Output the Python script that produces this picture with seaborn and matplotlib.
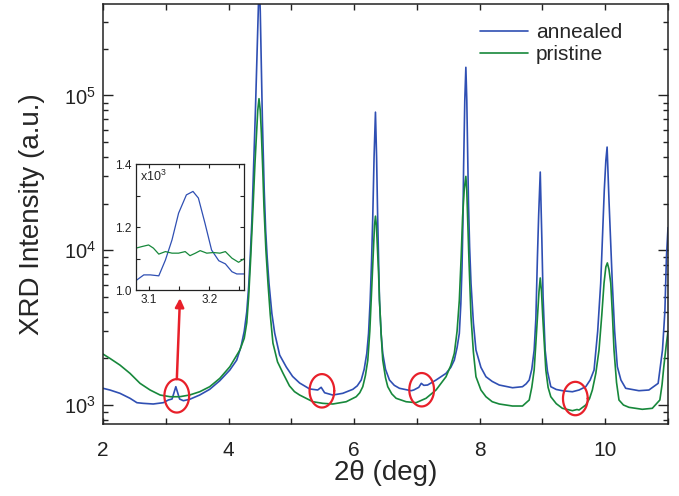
import numpy as np
import pandas as pd
import matplotlib
matplotlib.use("Agg")
import matplotlib.pyplot as plt
import seaborn as sns
from matplotlib.ticker import LogLocator, NullFormatter, MultipleLocator, FixedLocator

# ---------------- data ----------------
annealed_x = [2.00, 2.11, 2.27, 2.43, 2.54, 2.64, 2.80, 2.96, 3.04, 3.10, 3.13, 3.16, 3.19, 3.22,
              3.28, 3.38, 3.54, 3.70, 3.86, 4.02, 4.13, 4.20, 4.25, 4.29, 4.32, 4.345, 4.37,
              4.40, 4.428, 4.453, 4.472, 4.489, 4.505, 4.52, 4.539, 4.568, 4.591, 4.615, 4.644,
              4.69, 4.735, 4.814, 4.92, 5.02, 5.132, 5.291, 5.42, 5.475, 5.53, 5.66, 5.82, 5.98,
              6.05, 6.113, 6.16, 6.202, 6.23, 6.256, 6.278, 6.297, 6.318, 6.34, 6.358, 6.375,
              6.39, 6.404, 6.43, 6.456, 6.50, 6.563, 6.64, 6.722, 6.908, 6.95, 7.03, 7.07, 7.11,
              7.17, 7.305, 7.464, 7.54, 7.596, 7.64, 7.676, 7.70, 7.719, 7.733, 7.744, 7.763,
              7.78, 7.795, 7.808, 7.822, 7.84, 7.862, 7.90, 7.941, 8.02, 8.10, 8.20, 8.312,
              8.523, 8.682, 8.74, 8.789, 8.83, 8.868, 8.895, 8.92, 8.94, 8.965, 8.99, 9.01,
              9.043, 9.08, 9.133, 9.22, 9.318, 9.477, 9.583, 9.69, 9.76, 9.822, 9.88, 9.928,
              9.985, 10.01, 10.03, 10.06, 10.09, 10.113, 10.15, 10.193, 10.25, 10.326, 10.537,
              10.696, 10.843, 10.912, 10.95, 10.975, 11.0]
annealed_y = [1282, 1250, 1190, 1105, 1035, 1025, 1015, 1035, 1077, 1093, 1195, 1313, 1195, 1093,
              1066, 1088, 1160, 1263, 1435, 1682, 1951, 2400, 3000, 4000, 5800, 9000, 15000,
              35000, 80000, 181000, 350000, 560000, 350000, 168000, 69000, 24400, 13450, 9000, 6124,
              3900, 2914, 2102, 1758, 1530, 1387, 1270, 1250, 1301, 1200, 1160, 1190, 1263,
              1330, 1450, 1700, 2156, 2900, 4755, 8500, 16400, 40000, 78000, 40000, 16400,
              8500, 4755, 2900, 2156, 1700, 1450, 1340, 1282, 1237, 1250, 1300, 1380, 1340,
              1346, 1450, 1601, 1750, 1951, 2350, 2901, 4500, 7800, 15000, 34400, 92900,
              152000, 92900, 44200, 20000, 10500, 6124, 3400, 2265, 1750, 1523, 1420, 1346,
              1293, 1313, 1370, 1450, 1700, 2265, 3600, 9000, 17000, 32000, 12000, 5000,
              2265, 1650, 1313, 1260, 1237, 1218, 1250, 1313, 1450, 1682, 3000, 6124,
              24400, 38000, 46400, 21000, 10500, 6124, 3000, 1766, 1450, 1282, 1237,
              1250, 1380, 2265, 4000, 9000, 14000]

pristine_x = [2.00, 2.11, 2.27, 2.43, 2.59, 2.75, 2.91, 3.07, 3.22, 3.38, 3.54, 3.70, 3.86, 4.02,
              4.18, 4.25, 4.29, 4.32, 4.35, 4.39, 4.42, 4.445, 4.465, 4.485, 4.505, 4.523, 4.545,
              4.564, 4.595, 4.628, 4.665, 4.707, 4.78, 4.866, 4.97, 5.05, 5.132, 5.343, 5.502,
              5.661, 5.874, 6.033, 6.09, 6.138, 6.18, 6.218, 6.25, 6.272, 6.29, 6.308, 6.325,
              6.34, 6.355, 6.372, 6.39, 6.404, 6.43, 6.456, 6.50, 6.536, 6.60, 6.669, 6.828,
              6.987, 7.146, 7.305, 7.464, 7.54, 7.596, 7.64, 7.676, 7.705, 7.728, 7.755, 7.78,
              7.795, 7.808, 7.83, 7.862, 7.90, 7.941, 8.02, 8.10, 8.20, 8.312, 8.523, 8.682,
              8.789, 8.83, 8.868, 8.895, 8.92, 8.945, 8.965, 8.985, 9.005, 9.03, 9.054, 9.09,
              9.133, 9.22, 9.318, 9.477, 9.55, 9.583, 9.69, 9.75, 9.795, 9.85, 9.901, 9.945,
              9.981, 10.01, 10.034, 10.06, 10.088, 10.115, 10.14, 10.18, 10.219, 10.29, 10.378,
              10.59, 10.75, 10.87, 10.905, 10.933, 10.97, 11.0]
pristine_y = [2133, 2001, 1811, 1601, 1380, 1250, 1160, 1131, 1131, 1160, 1218, 1313, 1486, 1766,
              2265, 2700, 3400, 5000, 8500, 19000, 36000, 56900, 80000, 95300, 80000, 56900, 33000,
              19000, 10000, 6124, 3800, 2512, 1900, 1609, 1330, 1220, 1160, 1050, 1025,
              1015, 1050, 1131, 1200, 1313, 1550, 1951, 3000, 4755, 7000, 10000, 14500,
              16600, 14500, 10000, 7000, 4755, 2900, 1951, 1500, 1313, 1180, 1105, 1050,
              1035, 1105, 1250, 1523, 1800, 2156, 3000, 4755, 9000, 16400, 25000, 30000,
              24000, 16400, 8500, 3716, 2200, 1523, 1250, 1131, 1050, 1015, 985, 985,
              1077, 1300, 1682, 2500, 3716, 5400, 6620, 5400, 3700, 2500, 1682, 1300,
              1131, 1020, 952, 919, 935, 928, 1000, 1100, 1250, 1600, 2265, 3800,
              6124, 7800, 8280, 7500, 6124, 3800, 2265, 1400, 1077, 1000, 966,
              938, 952, 1077, 1350, 1766, 2400, 3000]

# inset (intensity in units of 10^3)
inset_x = [3.078, 3.091, 3.102, 3.116, 3.127, 3.138, 3.149, 3.162, 3.173, 3.182, 3.193, 3.204,
           3.216, 3.227, 3.238, 3.246, 3.258]
inset_annealed = [1.030, 1.048, 1.048, 1.045, 1.095, 1.159, 1.244, 1.302, 1.313, 1.292, 1.212,
                  1.127, 1.093, 1.083, 1.058, 1.051, 1.051]
inset_px = [3.078, 3.088, 3.099, 3.107, 3.116, 3.127, 3.138, 3.149, 3.160, 3.168, 3.177, 3.185,
            3.196, 3.207, 3.218, 3.227, 3.238, 3.249, 3.258]
inset_pristine = [1.133, 1.138, 1.143, 1.133, 1.114, 1.122, 1.117, 1.117, 1.122, 1.109, 1.117,
                  1.125, 1.117, 1.119, 1.117, 1.122, 1.101, 1.088, 1.099]

# highlighted features (centre x, centre intensity)
mark_x = [3.175, 5.487, 7.076, 9.524]
mark_y = [1146, 1235, 1255, 1101]

series_labels = ["annealed", "pristine"]
BLUE = "#2f4fb3"
GREEN = "#17883b"
RED = "#e8202a"

# ---------------- style ----------------
sns.set_style("ticks")
plt.rcParams["font.family"] = ["Liberation Sans", "DejaVu Sans"]
plt.rcParams["mathtext.default"] = "regular"
plt.rcParams["axes.linewidth"] = 1.1
plt.rcParams["axes.edgecolor"] = "#222222"
plt.rcParams["xtick.color"] = "#222222"
plt.rcParams["ytick.color"] = "#222222"

fig = plt.figure(figsize=(6.79, 4.96), dpi=100)
ax = fig.add_axes([0.1517, 0.1452, 0.8321, 0.8468])

df_a = pd.DataFrame({"x": annealed_x, "y": annealed_y})
df_p = pd.DataFrame({"x": pristine_x, "y": pristine_y})
sns.lineplot(data=df_a, x="x", y="y", ax=ax, color=BLUE, lw=1.2, label=series_labels[0],
             estimator=None, sort=False)
sns.lineplot(data=df_p, x="x", y="y", ax=ax, color=GREEN, lw=1.2, label=series_labels[1],
             estimator=None, sort=False)

ax.set_yscale("log")
ax.set_xlim(2, 11)
ax.set_ylim(754, 3.9e5)
ax.set_xticks([2, 4, 6, 8, 10])
ax.xaxis.set_minor_locator(MultipleLocator(1))
ax.yaxis.set_major_locator(LogLocator(base=10))
ax.yaxis.set_minor_locator(LogLocator(base=10, subs=np.arange(2, 10)))
ax.yaxis.set_minor_formatter(NullFormatter())
ax.tick_params(which="both", direction="in", top=True, right=True, width=1.0)
ax.tick_params(axis="y", which="major", length=7, pad=5, labelsize=14.5)
ax.tick_params(axis="y", which="minor", length=3.5)
ax.tick_params(axis="x", which="both", length=4.5, pad=12, labelsize=15)

ax.set_xlabel("2θ (deg)", fontsize=20, labelpad=0)
ax.set_ylabel("XRD Intensity (a.u.)", fontsize=20, labelpad=14)

leg = ax.legend(loc="upper left", bbox_to_anchor=(0.668, 0.955), frameon=False, fontsize=15,
                handlelength=2.3, handletextpad=0.35, labelspacing=0.15, borderpad=0,
                borderaxespad=0)

# red ellipses (drawn as closed curves so they stay elliptical on the log axis)
t = np.linspace(0, 2 * np.pi, 200)
for cx, cy in zip(mark_x, mark_y):
    ax.plot(cx + 0.197 * np.cos(t), cy * 10 ** (0.108 * np.sin(t)), color=RED, lw=1.6,
            solid_capstyle="round")

# arrow to inset
ax.annotate("", xy=(3.226, 4900), xytext=(3.176, 1470),
            arrowprops=dict(arrowstyle="-|>", color=RED, lw=1.8, mutation_scale=13,
                            shrinkA=0, shrinkB=0))

# ---------------- inset ----------------
axin = fig.add_axes([0.2003, 0.4153, 0.159, 0.254])
sns.lineplot(x=inset_x, y=inset_annealed, ax=axin, color=BLUE, lw=0.9, estimator=None, sort=False)
sns.lineplot(x=inset_px, y=inset_pristine, ax=axin, color=GREEN, lw=0.9, estimator=None, sort=False)
axin.set_xlim(3.078, 3.258)
axin.set_ylim(1.0, 1.4)
axin.set_xticks([3.1, 3.2])
axin.set_xticklabels(["3.1", "3.2"])
axin.set_yticks([1.0, 1.2, 1.4])
axin.set_yticklabels(["1.0", "1.2", "1.4"])
axin.yaxis.set_minor_locator(FixedLocator([1.1, 1.3]))
axin.xaxis.set_minor_locator(FixedLocator([3.15, 3.25]))
axin.tick_params(which="both", direction="in", top=True, right=True, labelsize=8.5,
                 length=3, width=0.8, pad=3)
for s in axin.spines.values():
    s.set_linewidth(0.9)
axin.set_xlabel("")
axin.set_ylabel("")
axin.text(0.04, 0.96, "x10$^3$", transform=axin.transAxes, ha="left", va="top", fontsize=9)

fig.savefig("out.png", dpi=100)
